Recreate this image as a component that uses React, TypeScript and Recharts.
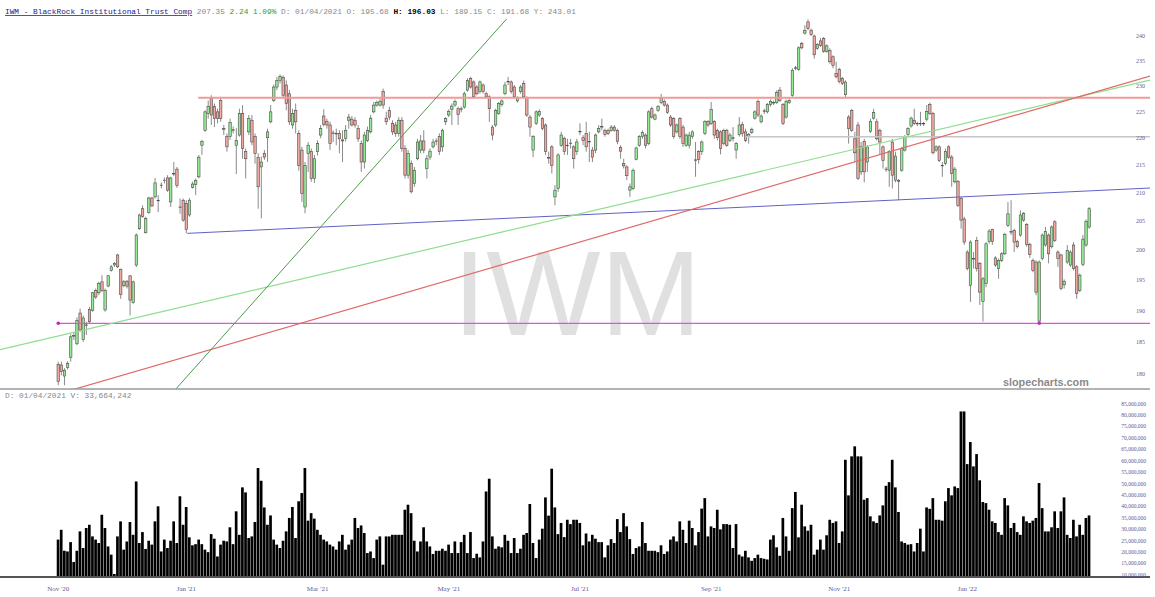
import { ComposedChart, Bar, XAxis, YAxis, ReferenceLine, ReferenceDot } from 'recharts';

// IWM daily candles, Nov '20 -> Mar '22
const opens = [
  181.5, 181.4, 179.7, 181.0, 182.6, 185.9, 184.7, 189.6, 185.4, 187.7,
  190.2, 190.0, 193.3, 192.9, 194.7, 190.1, 194.0, 196.6, 197.5, 199.2,
  196.8, 194.1, 194.8, 195.7, 191.3, 197.5, 203.7, 207.2, 203.0, 206.5,
  209.1, 209.3, 208.7, 211.4, 212.3, 212.7, 208.4, 213.5, 214.3, 207.5,
  208.7, 208.1, 206.1, 211.0, 211.5, 212.9, 218.7, 221.5, 224.7, 227.6,
  226.0, 225.0, 227.2, 221.7, 220.3, 220.3, 221.5, 218.7, 220.6, 224.7,
  217.5, 221.2, 223.4, 220.3, 216.4, 214.7, 217.2, 220.1, 223.1, 227.2,
  229.8, 231.1, 231.7, 230.2, 228.5, 222.5, 225.3, 220.9, 217.8, 207.5,
  217.2, 217.5, 212.6, 217.5, 220.6, 224.2, 223.2, 222.5, 221.0, 220.8,
  220.9, 219.7, 220.0, 223.4, 223.6, 223.4, 221.8, 219.0, 215.6, 219.6,
  221.2, 225.0, 226.3, 226.3, 228.9, 223.8, 225.3, 222.8, 222.5, 220.9,
  223.4, 218.1, 213.2, 215.3, 211.7, 216.2, 217.8, 219.5, 214.4, 216.5,
  218.4, 219.4, 220.3, 218.4, 223.1, 224.4, 225.5, 226.3, 225.6, 225.6,
  225.9, 229.2, 231.5, 230.8, 229.8, 228.9, 230.2, 228.5, 227.9, 222.1,
  222.5, 224.7, 226.4, 228.5, 230.8, 230.8, 229.8, 227.1, 228.9, 230.5,
  227.7, 224.0, 217.8, 222.8, 224.4, 223.7, 222.5, 216.4, 218.4, 209.3,
  210.8, 218.7, 220.0, 218.7, 219.0, 218.4, 217.5, 221.2, 220.1, 220.9,
  219.3, 217.8, 217.8, 221.2, 222.1, 221.5, 221.5, 221.5, 222.1, 221.5,
  218.3, 215.3, 214.7, 210.5, 210.8, 216.1, 218.7, 220.3, 220.6, 219.0,
  225.6, 223.6, 225.3, 226.8, 227.0, 226.3, 224.0, 223.7, 221.2, 223.7,
  222.1, 218.7, 218.7, 220.3, 215.9, 217.5, 217.5, 220.9, 223.2, 222.8,
  223.2, 221.5, 221.2, 219.0, 221.5, 219.6, 220.1, 217.8, 220.7, 222.6,
  221.2, 220.3, 221.1, 223.8, 227.0, 223.1, 225.2, 225.0, 226.4, 226.8,
  226.8, 229.2, 226.4, 224.0, 226.8, 228.2, 233.6, 233.3, 238.5, 240.6,
  242.9, 241.2, 240.0, 237.5, 239.0, 239.5, 236.9, 237.1, 235.8, 232.5,
  233.3, 231.5, 228.3, 224.0, 225.3, 219.9, 222.5, 213.8, 219.4, 215.6,
  221.3, 223.8, 223.1, 221.5, 218.4, 214.3, 214.1, 219.3, 212.3, 212.2,
  214.1, 217.8, 220.7, 222.3, 223.4, 222.8, 222.7, 222.8, 223.6, 226.4,
  224.7, 217.8, 218.4, 215.0, 215.3, 218.4, 216.5, 212.0, 212.1, 209.0,
  205.4, 199.7, 194.1, 198.6, 201.7, 197.8, 191.5, 194.4, 201.5, 203.6,
  198.7, 196.9, 198.3, 199.4, 204.3, 203.1, 203.4, 201.5, 202.6, 205.2,
  204.4, 201.0, 198.3, 198.0, 188.3, 198.6, 200.9, 202.6, 200.6, 204.9,
  199.7, 199.2, 194.2, 198.0, 197.5, 200.9, 197.2, 193.3, 197.6, 200.9,
  204.0,
];

const highs = [
  181.9, 181.9, 180.9, 182.0, 186.2, 186.6, 188.9, 190.3, 189.2, 188.2,
  190.6, 193.0, 193.6, 194.7, 195.8, 193.6, 195.8, 197.5, 198.0, 199.4,
  196.9, 195.0, 195.0, 195.8, 194.9, 202.9, 206.3, 207.8, 205.8, 209.3,
  209.3, 212.7, 209.6, 211.9, 212.8, 213.2, 212.9, 215.6, 214.7, 209.0,
  209.0, 208.7, 209.1, 212.0, 212.6, 216.9, 219.7, 225.3, 227.2, 228.2,
  226.6, 225.6, 227.9, 222.5, 220.9, 223.7, 222.2, 221.9, 225.6, 226.3,
  218.1, 224.4, 224.4, 220.9, 217.2, 216.6, 217.8, 221.8, 226.3, 230.3,
  231.8, 232.3, 232.1, 231.1, 229.2, 225.6, 226.6, 221.5, 218.4, 215.6,
  219.3, 218.1, 216.9, 219.6, 222.5, 225.5, 223.7, 223.1, 221.5, 221.8,
  221.5, 221.5, 222.5, 224.6, 224.2, 224.0, 222.5, 219.6, 221.2, 222.2,
  224.4, 226.9, 227.2, 227.6, 229.5, 225.0, 226.0, 223.4, 223.1, 224.0,
  224.0, 218.7, 217.8, 215.9, 214.7, 219.9, 220.6, 221.5, 216.9, 218.1,
  219.9, 220.0, 220.9, 221.8, 224.0, 225.5, 226.6, 227.4, 226.0, 226.0,
  228.9, 231.5, 231.8, 231.1, 230.2, 231.1, 230.5, 228.9, 228.2, 222.5,
  225.6, 226.9, 227.4, 230.8, 231.8, 231.1, 230.2, 228.0, 230.2, 231.1,
  228.0, 224.4, 220.6, 225.3, 225.5, 224.0, 222.8, 217.5, 218.7, 211.4,
  217.2, 221.2, 220.3, 219.9, 219.9, 218.7, 219.9, 222.8, 220.6, 223.1,
  221.2, 218.4, 220.9, 222.5, 223.7, 221.8, 221.8, 222.5, 222.5, 221.8,
  218.7, 216.2, 215.0, 211.7, 214.4, 218.4, 220.6, 221.5, 220.9, 225.3,
  226.0, 224.7, 226.3, 228.5, 227.4, 226.6, 224.4, 224.0, 222.8, 224.0,
  222.5, 220.9, 221.2, 221.5, 219.3, 217.8, 219.6, 223.4, 223.4, 226.9,
  223.4, 221.8, 221.5, 221.8, 221.8, 221.0, 222.1, 219.3, 224.0, 223.1,
  221.8, 221.0, 222.0, 225.3, 227.4, 224.5, 225.6, 226.7, 227.4, 227.2,
  229.2, 229.8, 226.7, 227.4, 227.6, 233.5, 234.0, 237.9, 238.8, 242.2,
  243.4, 241.5, 240.3, 238.6, 239.6, 239.8, 238.3, 237.5, 236.1, 234.8,
  233.6, 231.8, 231.1, 224.4, 225.6, 221.2, 223.1, 219.3, 219.9, 218.7,
  223.7, 225.6, 223.7, 221.8, 218.7, 214.7, 217.8, 219.9, 217.5, 212.5,
  218.4, 220.6, 222.1, 224.1, 225.6, 223.1, 225.0, 223.1, 226.3, 226.8,
  225.0, 218.7, 218.7, 215.6, 218.1, 218.7, 216.9, 214.7, 212.3, 209.3,
  205.8, 200.0, 201.7, 199.7, 202.3, 198.0, 195.5, 201.4, 203.6, 203.7,
  199.0, 198.6, 199.7, 203.0, 208.4, 208.7, 203.7, 201.8, 206.9, 206.6,
  204.7, 201.3, 198.6, 198.3, 198.3, 202.9, 204.0, 202.9, 204.3, 205.2,
  200.0, 199.4, 195.1, 200.9, 200.0, 201.4, 197.5, 196.1, 202.6, 205.3,
  207.5,
];

const lows = [
  178.3, 179.8, 178.3, 180.7, 181.9, 185.3, 184.5, 186.6, 185.0, 186.1,
  187.9, 189.8, 191.9, 192.5, 193.0, 189.8, 193.8, 196.4, 197.2, 197.0,
  191.9, 193.8, 193.6, 189.2, 191.1, 197.2, 203.5, 205.6, 202.9, 206.3,
  207.5, 209.0, 206.6, 210.8, 211.7, 210.2, 207.5, 213.0, 210.9, 206.3,
  204.9, 202.9, 205.8, 210.8, 209.6, 212.6, 216.9, 221.2, 223.7, 222.5,
  222.1, 222.8, 223.1, 220.6, 217.5, 219.7, 220.9, 213.4, 220.3, 216.2,
  212.6, 220.6, 218.7, 215.3, 207.2, 205.5, 216.0, 215.6, 222.8, 226.9,
  229.2, 230.5, 227.6, 225.3, 222.5, 221.8, 220.9, 214.0, 208.4, 206.4,
  213.8, 212.0, 211.8, 216.8, 220.0, 222.2, 221.8, 217.8, 219.3, 218.7,
  217.2, 215.6, 219.4, 221.8, 222.2, 222.0, 219.3, 213.8, 214.4, 219.3,
  220.9, 224.7, 226.0, 226.0, 225.6, 222.5, 223.4, 220.6, 220.3, 220.3,
  217.5, 212.6, 212.6, 209.9, 211.1, 215.9, 217.2, 217.2, 212.6, 216.0,
  218.1, 218.7, 216.9, 217.5, 222.5, 224.0, 222.5, 226.0, 222.5, 224.9,
  225.6, 228.9, 229.5, 227.6, 228.2, 228.5, 228.5, 227.6, 223.1, 219.6,
  222.1, 224.4, 226.0, 228.2, 230.2, 228.5, 227.6, 226.8, 228.5, 227.6,
  224.0, 220.3, 216.5, 222.5, 224.0, 221.5, 216.9, 215.3, 213.5, 207.8,
  210.2, 218.4, 216.9, 216.9, 218.1, 214.4, 216.9, 220.6, 218.7, 217.5,
  215.6, 215.6, 217.2, 220.9, 221.5, 220.3, 220.6, 221.2, 221.2, 218.9,
  216.2, 214.4, 212.3, 209.3, 210.5, 215.9, 218.4, 219.9, 218.1, 218.7,
  223.7, 223.4, 225.0, 226.5, 226.0, 224.6, 222.1, 219.9, 220.9, 219.9,
  218.4, 218.4, 218.1, 219.9, 212.9, 215.3, 216.9, 220.6, 222.1, 222.5,
  219.9, 219.6, 217.0, 218.7, 218.4, 219.3, 219.4, 216.2, 220.3, 220.3,
  219.3, 219.0, 220.8, 223.5, 224.0, 222.8, 224.6, 224.7, 226.0, 226.3,
  226.5, 226.9, 222.5, 223.7, 226.5, 227.9, 233.1, 233.0, 237.3, 240.3,
  241.2, 240.0, 235.4, 237.2, 237.8, 236.6, 236.6, 234.4, 233.5, 231.5,
  230.5, 230.2, 227.6, 219.0, 221.2, 215.6, 212.3, 213.2, 211.9, 213.8,
  221.0, 223.5, 219.6, 216.9, 214.4, 213.8, 211.1, 210.8, 211.9, 208.7,
  213.8, 217.5, 220.3, 222.0, 222.5, 222.3, 222.3, 222.3, 223.2, 224.4,
  217.0, 217.5, 215.6, 212.9, 215.0, 216.2, 211.1, 211.7, 207.5, 203.7,
  200.9, 196.6, 191.4, 196.9, 196.4, 190.9, 188.2, 193.8, 201.1, 200.9,
  197.2, 195.2, 198.0, 199.2, 204.0, 202.6, 199.7, 200.3, 202.3, 204.9,
  200.6, 198.7, 196.3, 192.5, 187.9, 198.3, 200.6, 197.8, 200.3, 201.4,
  197.2, 193.3, 193.6, 197.7, 197.2, 196.6, 191.9, 193.0, 197.3, 200.6,
  203.7,
];

const closes = [
  178.9, 180.4, 180.6, 181.6, 185.8, 186.0, 188.4, 186.9, 188.8, 187.6,
  188.2, 192.9, 192.2, 194.4, 193.3, 193.3, 195.7, 197.2, 197.8, 197.2,
  192.6, 194.7, 194.0, 191.7, 194.7, 202.6, 206.1, 205.8, 205.5, 209.1,
  207.7, 211.8, 208.6, 211.3, 212.2, 210.5, 212.7, 213.4, 211.3, 207.4,
  205.2, 203.6, 208.7, 211.6, 212.2, 216.5, 219.4, 225.0, 226.0, 224.4,
  223.7, 223.7, 223.7, 221.8, 218.4, 223.0, 221.6, 219.6, 224.7, 218.1,
  216.2, 223.7, 219.3, 217.2, 211.1, 215.6, 216.5, 221.2, 225.0, 229.8,
  231.1, 231.9, 228.2, 226.6, 223.1, 224.7, 223.1, 215.0, 209.9, 215.0,
  218.7, 212.6, 216.2, 219.0, 221.8, 222.6, 222.5, 219.0, 220.9, 220.9,
  219.9, 219.5, 221.5, 224.0, 222.5, 222.5, 219.9, 215.6, 220.6, 221.5,
  223.8, 226.3, 226.8, 227.0, 226.3, 223.1, 224.0, 221.2, 220.9, 223.4,
  218.1, 213.2, 217.2, 210.2, 214.1, 219.3, 219.5, 217.8, 216.2, 217.6,
  219.3, 219.5, 217.5, 221.5, 223.7, 225.1, 226.1, 227.0, 224.5, 225.5,
  228.5, 231.1, 229.8, 227.9, 228.5, 230.8, 228.9, 227.9, 225.6, 220.6,
  225.3, 226.6, 227.1, 230.2, 230.9, 228.9, 227.9, 227.7, 229.8, 227.9,
  224.4, 222.1, 220.3, 225.0, 225.1, 221.8, 217.5, 216.3, 215.0, 210.5,
  216.9, 220.6, 217.5, 218.6, 219.1, 216.2, 219.3, 221.3, 219.6, 218.4,
  219.4, 216.5, 220.6, 221.8, 222.2, 220.7, 220.9, 222.1, 221.5, 219.4,
  217.6, 214.9, 213.1, 211.1, 214.1, 218.2, 220.3, 221.1, 218.7, 225.0,
  224.0, 224.4, 226.0, 227.6, 226.3, 224.9, 222.5, 220.3, 222.5, 220.3,
  219.0, 220.6, 220.6, 221.2, 216.0, 216.1, 219.3, 223.2, 222.5, 225.5,
  220.6, 220.1, 218.1, 221.5, 218.7, 220.6, 220.0, 219.0, 222.5, 220.9,
  219.6, 220.7, 221.7, 225.0, 224.4, 224.2, 225.1, 226.4, 227.0, 226.7,
  228.7, 227.2, 222.8, 227.0, 227.2, 233.1, 233.5, 237.6, 237.6, 241.1,
  241.5, 240.3, 236.2, 238.3, 238.1, 236.9, 238.0, 234.8, 234.1, 231.8,
  230.9, 230.5, 230.8, 221.8, 221.5, 217.3, 212.6, 218.4, 213.8, 218.4,
  223.2, 224.9, 219.9, 219.3, 215.9, 214.2, 217.5, 213.2, 216.7, 212.1,
  218.1, 220.3, 221.8, 223.8, 222.8, 222.7, 222.8, 222.7, 225.1, 224.7,
  217.3, 218.4, 215.9, 214.9, 217.5, 216.5, 213.5, 214.3, 207.8, 205.2,
  201.4, 196.9, 201.4, 198.5, 196.9, 193.0, 195.2, 201.1, 203.3, 201.5,
  197.5, 198.3, 199.4, 202.7, 206.3, 203.2, 201.4, 200.6, 206.1, 206.4,
  201.0, 199.3, 196.6, 193.0, 198.0, 202.6, 203.2, 199.4, 204.0, 201.7,
  198.6, 193.6, 194.8, 200.0, 199.7, 196.9, 192.8, 195.8, 201.9, 205.0,
  207.2,
];

// volume in millions of shares
const volumesM = [
  25.4, 29.7, 20.5, 20.2, 24.3, 15.6, 20.5, 29.0, 21.7, 30.5,
  31.9, 26.8, 25.4, 23.9, 36.3, 30.5, 22.4, 18.8, 10.3, 26.8,
  33.4, 21.0, 24.6, 33.1, 27.5, 50.9, 23.9, 28.7, 21.3, 24.9,
  23.2, 33.4, 40.0, 20.2, 25.4, 21.7, 24.9, 33.4, 23.9, 44.4,
  31.9, 39.7, 26.4, 22.9, 23.4, 25.4, 23.4, 21.0, 19.9, 27.8,
  25.8, 18.0, 23.2, 24.9, 24.6, 30.8, 23.4, 37.8, 27.5, 48.3,
  46.1, 26.1, 26.8, 33.1, 56.8, 51.2, 39.5, 31.9, 36.0, 25.4,
  23.2, 21.7, 24.9, 29.0, 34.9, 39.7, 26.1, 42.2, 45.8, 56.8,
  33.7, 37.0, 34.6, 29.7, 27.5, 25.4, 24.6, 23.2, 22.4, 21.0,
  24.6, 27.5, 21.0, 23.2, 25.4, 34.9, 30.5, 31.6, 28.3, 19.5,
  20.2, 17.3, 25.4, 26.8, 14.4, 26.8, 26.8, 27.5, 27.5, 27.5,
  27.5, 38.5, 40.7, 37.0, 24.9, 20.2, 24.6, 30.8, 24.6, 22.4,
  19.1, 20.5, 20.5, 21.4, 20.5, 23.2, 19.5, 24.6, 19.5, 24.3,
  27.5, 19.5, 28.7, 17.3, 19.2, 17.6, 24.6, 46.5, 52.1, 26.8,
  21.4, 22.4, 22.0, 27.5, 24.9, 19.5, 26.1, 19.5, 21.4, 27.5,
  28.3, 41.0, 23.9, 17.3, 25.4, 30.2, 43.9, 35.9, 56.5, 39.5,
  27.8, 32.7, 26.5, 34.1, 32.2, 34.1, 34.1, 32.7, 22.9, 28.1,
  24.6, 27.5, 25.8, 24.3, 24.3, 17.6, 22.9, 25.6, 23.9, 34.4,
  28.7, 37.0, 31.2, 25.6, 19.1, 21.7, 22.4, 33.1, 23.9, 20.5,
  20.5, 20.5, 19.9, 22.9, 19.1, 20.2, 25.4, 26.8, 24.6, 33.4,
  29.7, 23.9, 33.7, 30.5, 22.9, 28.7, 39.0, 43.6, 26.8, 31.2,
  30.5, 38.5, 29.9, 32.2, 32.2, 31.9, 21.7, 32.2, 18.8, 18.0,
  20.5, 17.6, 16.1, 17.3, 18.8, 17.3, 17.0, 16.7, 25.4, 27.3,
  22.0, 18.3, 34.9, 26.8, 20.5, 39.2, 46.3, 26.4, 40.7, 31.2,
  29.3, 31.9, 18.8, 21.0, 25.4, 21.0, 27.3, 34.1, 32.7, 33.4,
  23.9, 29.0, 60.4, 44.8, 61.9, 66.3, 61.9, 61.9, 42.9, 43.6,
  35.6, 33.4, 32.7, 36.0, 40.4, 49.0, 50.6, 60.4, 48.3, 37.5,
  24.6, 23.9, 23.2, 23.4, 20.2, 23.9, 30.2, 20.2, 39.5, 38.9,
  43.6, 34.1, 34.1, 33.7, 42.2, 48.0, 44.8, 48.7, 48.0, 81.6,
  81.6, 58.5, 68.2, 57.5, 62.9, 51.4, 41.9, 41.4, 38.5, 33.4,
  32.7, 28.7, 27.5, 43.6, 40.4, 30.5, 32.7, 28.7, 27.5, 35.6,
  33.4, 32.7, 33.7, 34.9, 50.2, 39.2, 29.0, 29.0, 30.8, 37.8,
  30.5, 37.8, 43.9, 27.5, 26.1, 34.1, 26.8, 31.9, 27.5, 34.9,
  36.0,
];

const monthTickIndex = [0, 41, 83, 125, 167, 209, 250, 291];
const monthLabels = ["Nov '20", "Jan '21", "Mar '21", "May '21", "Jul '21", "Sep '21", "Nov '21", "Jan '22"];
const priceTicks = [180, 185, 190, 195, 200, 205, 210, 215, 220, 225, 230, 235, 240];
const volumeTicks = [10, 15, 20, 25, 30, 35, 40, 45, 50, 55, 60, 65, 70, 75, 80, 85].map(m => m * 1e6);

// drawn trendlines: [candle index, price] anchors
const trendLines = [
  { key: 'resistance', from: [44.8, 227.72], to: [349.45, 227.72] },
  { key: 'support', from: [0, 187.95], to: [349.45, 187.95] },
  { key: 'pivot', from: [220, 220.29], to: [349.45, 220.29] },
  { key: 'base', from: [41.3, 202.9], to: [349.45, 210.88] },
  { key: 'longUp', from: [-18.66, 183.78], to: [349.45, 231.18] },
  { key: 'midUp', from: [4.39, 177.59], to: [349.45, 231.97] },
  { key: 'steepUp', from: [37.36, 177.59], to: [143.5, 243.5] },
];
const supportTouches = [0, 314];
const SUPPORT_PRICE = 187.95;

const lineStyle: Record<string, { stroke: string; width: number }> = {
  resistance: { stroke: '#f19a9a', width: 2 },
  support: { stroke: '#dd55dd', width: 1.3 },
  pivot: { stroke: '#c6c6c6', width: 1.5 },
  base: { stroke: '#6060c8', width: 1 },
  longUp: { stroke: '#8ede8e', width: 1.2 },
  midUp: { stroke: '#e06a6a', width: 1.2 },
  steepUp: { stroke: '#4e9a4e', width: 1 },
};

const X_DOMAIN: [number, number] = [-18.66, 349.45];
const PRICE_DOMAIN: [number, number] = [177.73, 243.5];
const VOL_DOMAIN: [number, number] = [9e6, 91e6];

const UP_FILL = '#93ec93';
const DOWN_FILL = '#f3a8a0';
const AXIS_TEXT = '#5c5c96';
const SERIF = '"Liberation Serif", "DejaVu Serif", serif';
const MONO = '"Liberation Mono", "DejaVu Sans Mono", monospace';

const data = opens.map((o, i) => ({
  i,
  o,
  h: highs[i],
  l: lows[i],
  c: closes[i],
  range: [lows[i], highs[i]],
  v: volumesM[i] * 1e6,
}));

function Candle(props: any) {
  const { x, y, width, height, payload } = props;
  if (x == null || y == null) return null;
  const { o, h, l, c } = payload;
  const top = Math.min(y, y + height);
  const span = Math.abs(height);
  const logSpan = Math.log(h) - Math.log(l);
  // position inside the high/low range on the log price scale
  const yOf = (p: number) => top + (logSpan > 0 ? (span * (Math.log(h) - Math.log(p))) / logSpan : 0);
  const cx = x + width / 2;
  const up = c >= o;
  const bTop = yOf(Math.max(o, c));
  const bBot = yOf(Math.min(o, c));
  return (
    <g>
      <line x1={cx} x2={cx} y1={top} y2={top + span} stroke="#8a8a8a" strokeWidth={1} />
      <rect
        x={cx - 1.2}
        y={bTop}
        width={2.4}
        height={Math.max(bBot - bTop, 0.5)}
        fill={up ? UP_FILL : DOWN_FILL}
        stroke="#4a4a4a"
        strokeWidth={0.6}
      />
    </g>
  );
}

const PriceTick = ({ y, payload }: any) => (
  <text x={1145} y={y} dy={2} textAnchor="end" fontSize={6} fontFamily={SERIF} fill={AXIS_TEXT}>
    {payload.value}
  </text>
);

const VolumeTick = ({ y, payload }: any) => (
  <text x={1146} y={y} dy={2} textAnchor="end" fontSize={5.5} fontFamily={SERIF} fill={AXIS_TEXT}>
    {Number(payload.value).toLocaleString('en-US')}
  </text>
);

const MonthTick = ({ x, y, payload }: any) => (
  <text x={x} y={y} dy={6} textAnchor="middle" fontSize={7} fontFamily={SERIF} fill={AXIS_TEXT}>
    {monthLabels[monthTickIndex.indexOf(payload.value)]}
  </text>
);

export default function App() {
  return (
    <div style={{ position: 'absolute', left: 0, top: 0, width: 1155, height: 597, background: '#fff' }}>
      {/* watermark behind the candles */}
      <svg width={1155} height={597} style={{ position: 'absolute', left: 0, top: 0 }}>
        <text x={577} y={335} textAnchor="middle" fontSize={121} fontFamily='"Liberation Sans", Arial, sans-serif' fill="#e0e0e0">
          IWM
        </text>
      </svg>

      <div style={{ position: 'absolute', left: 0, top: 0 }}>
        <ComposedChart width={1155} height={390} data={data} margin={{ top: 19, right: 4, bottom: 0, left: 0 }}>
          <XAxis
            type="number"
            dataKey="i"
            domain={X_DOMAIN}
            allowDataOverflow
            tick={false}
            tickLine={false}
            height={1}
            axisLine={{ stroke: '#9a9a9a', strokeWidth: 1.5 }}
          />
          <YAxis
            orientation="right"
            scale="log"
            domain={PRICE_DOMAIN}
            allowDataOverflow
            ticks={priceTicks}
            interval={0}
            width={1}
            axisLine={false}
            tickLine={false}
            tick={PriceTick}
          />
          <Bar dataKey="range" barSize={3} shape={Candle} isAnimationActive={false} />
          {trendLines.map(t => (
            <ReferenceLine
              key={t.key}
              segment={[{ x: t.from[0], y: t.from[1] }, { x: t.to[0], y: t.to[1] }]}
              stroke={lineStyle[t.key].stroke}
              strokeWidth={lineStyle[t.key].width}
              ifOverflow="hidden"
            />
          ))}
          {supportTouches.map(i => (
            <ReferenceDot key={i} x={i} y={SUPPORT_PRICE} r={1.8} fill="#cc22cc" stroke="none" />
          ))}
        </ComposedChart>
      </div>

      <div style={{ position: 'absolute', left: 0, top: 390 }}>
        <ComposedChart width={1155} height={207} data={data} margin={{ top: 0, right: 4, bottom: 0, left: 0 }}>
          <XAxis
            type="number"
            dataKey="i"
            domain={X_DOMAIN}
            allowDataOverflow
            ticks={monthTickIndex}
            interval={0}
            height={20}
            tickLine={false}
            axisLine={{ stroke: '#555', strokeWidth: 2 }}
            tick={MonthTick}
          />
          <YAxis
            orientation="right"
            domain={VOL_DOMAIN}
            allowDataOverflow
            ticks={volumeTicks}
            interval={0}
            width={1}
            axisLine={false}
            tickLine={false}
            tick={VolumeTick}
          />
          <Bar dataKey="v" barSize={2.7} fill="#000" isAnimationActive={false} />
        </ComposedChart>
      </div>

      <svg width={1155} height={597} style={{ position: 'absolute', left: 0, top: 0, pointerEvents: 'none' }}>
        <text x={5} y={14} fontSize={7.8} fontFamily={MONO} fill="#888">
          <tspan fill="#23238c" textDecoration="underline">IWM - BlackRock Institutional Trust Comp</tspan>
          <tspan> 207.35 </tspan>
          <tspan fill="#2f9b2f">2.24 1.09%</tspan>
          <tspan> D: 01/04/2021 O: 195.68 </tspan>
          <tspan fill="#000" fontWeight="bold">H: 196.03</tspan>
          <tspan> L: 189.15 C: 191.68 Y: 243.01</tspan>
        </text>
        <text x={5} y={398} fontSize={7.8} fontFamily={MONO} fill="#888">
          D: 01/04/2021 V: 33,664,242
        </text>
        <text x={1003} y={385.5} fontSize={10.8} fontWeight="bold" fontFamily='"Liberation Sans", Arial, sans-serif' fill="#8a8a8a">
          slopecharts.com
        </text>
      </svg>
    </div>
  );
}
